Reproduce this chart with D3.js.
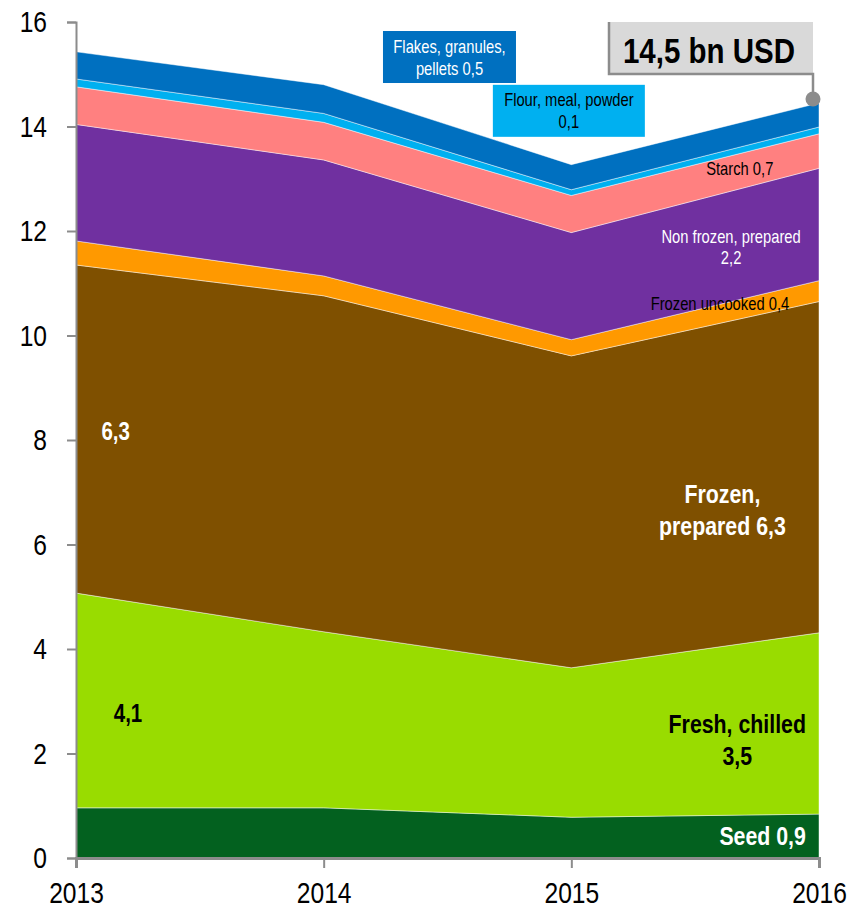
<!DOCTYPE html>
<html>
<head>
<meta charset="utf-8">
<script src="https://cdn.jsdelivr.net/npm/d3@7"></script>
<style>
  html, body { margin: 0; padding: 0; background: #fff; }
  svg text { font-family: "Liberation Sans", Arial, sans-serif; }
</style>
</head>
<body>
<svg id="chart"></svg>
<script>
'use strict'

const chartWidth = 859,
      chartHeight = 913,
      narrow = 0.82  // squeeze Liberation Sans to look like Arial Narrow

// values (bn USD)
const years = [2013, 2014, 2015, 2016]
const seed           = [0.96, 0.96, 0.78, 0.84]
const freshChilled   = [4.11, 3.37, 2.86, 3.47]
const frozenPrepared = [6.28, 6.43, 5.97, 6.34]
const frozenUncooked = [0.46, 0.38, 0.31, 0.40]
const nonFrozen      = [2.23, 2.22, 2.05, 2.15]
const starch         = [0.72, 0.72, 0.71, 0.66]
const flour          = [0.15, 0.17, 0.11, 0.13]
const flakes         = [0.52, 0.55, 0.48, 0.46]

const keys   = ["seed", "fresh", "frozenPrep", "frozenUnc", "nonFrozen", "starch", "flour", "flakes"]
const series = [seed, freshChilled, frozenPrepared, frozenUncooked, nonFrozen, starch, flour, flakes]
const colors = ["#03611f", "#99dc00", "#7f5000", "#ff9900", "#7030a0", "#ff8080", "#00b0f0", "#0070c0"]

const yTicks = [0, 2, 4, 6, 8, 10, 12, 14, 16]
const totalLabel = "14,5 bn USD"

// rows for d3.stack
const table = years.map((yr, i) => {
  const row = { year: yr }
  keys.forEach((k, j) => { row[k] = series[j][i] })
  return row
})

const svg = d3.select("#chart")
svg.attr("width", chartWidth).attr("height", chartHeight)

const x = d3.scaleLinear().domain([2013, 2016]).range([76, 819])
const y = d3.scaleLinear().domain([0, 16]).range([858, 22])

const stacked = d3.stack().keys(keys)(table)

const area = d3.area()
  .x(d => x(d.data.year))
  .y0(d => y(d[0]))
  .y1(d => y(d[1]))

svg.append("g")
  .selectAll("path")
  .data(stacked)
  .enter().append("path")
    .attr("d", area)
    .attr("fill", (d, i) => colors[i])
    .attr("stroke", "rgba(255,255,255,0.45)")
    .attr("stroke-width", 1)

// axes
const yAxis = svg.append("g")
  .attr("transform", `translate(${x(2013)},0)`)
  .call(d3.axisLeft(y).tickValues(yTicks).tickSize(9).tickPadding(20).tickFormat(d3.format("d")))
yAxis.select(".domain").attr("stroke", "#8c8c8c").attr("stroke-width", 2)
yAxis.selectAll(".tick line").attr("stroke", "#8c8c8c").attr("stroke-width", 2)
yAxis.selectAll(".tick text")
  .attr("font-size", 30).attr("fill", "#000")
  .style("font-family", '"Liberation Sans", Arial, sans-serif')
  .attr("x", -29 / narrow)
  .attr("transform", `scale(${narrow},1)`)

const xAxis = svg.append("g")
  .attr("transform", `translate(0,${y(0)})`)
  .call(d3.axisBottom(x).tickValues(years).tickSize(10).tickPadding(14).tickFormat(d3.format("d")))
xAxis.select(".domain").attr("stroke", "#8c8c8c").attr("stroke-width", 3)
xAxis.selectAll(".tick line").attr("stroke", "#8c8c8c").attr("stroke-width", 2)
xAxis.selectAll(".tick text")
  .attr("font-size", 30).attr("fill", "#000")
  .style("font-family", '"Liberation Sans", Arial, sans-serif')
  .attr("transform", `scale(${narrow},1)`)

// in-chart labels, placed in data space
const labels = [
  { lines: ["6,3"], at: [2013.16, 8.17], color: "#fff", bold: true, size: 25, gap: 0 },
  { lines: ["4,1"], at: [2013.21, 2.78], color: "#000", bold: true, size: 25, gap: 0 },
  { lines: ["Frozen,", "prepared 6,3"], at: [2015.61, 6.66], color: "#fff", bold: true, size: 26, gap: 32 },
  { lines: ["Fresh, chilled", "3,5"], at: [2015.67, 2.26], color: "#000", bold: true, size: 26, gap: 32 },
  { lines: ["Seed 0,9"], at: [2015.947, 0.42], color: "#fff", bold: true, size: 26, gap: 0, anchor: "end" },
  { lines: ["Frozen uncooked 0,4"], at: [2015.60, 10.62], color: "#000", bold: false, size: 18, gap: 0 },
  { lines: ["Non frozen, prepared", "2,2"], at: [2015.645, 11.70], color: "#fff", bold: false, size: 18, gap: 21 },
  { lines: ["Starch 0,7"], at: [2015.68, 13.19], color: "#000", bold: false, size: 18, gap: 0 },
  { lines: ["Flakes, granules,", "pellets 0,5"], at: [2014.508, 15.33], color: "#fff", bold: false, size: 18, gap: 22,
    box: { w: 133, h: 52, fill: "#0070c0" } },
  { lines: ["Flour, meal, powder", "0,1"], at: [2014.99, 14.30], color: "#000", bold: false, size: 18, gap: 22,
    box: { w: 152, h: 52, fill: "#00b0f0" } }
]

const lbl = svg.append("g")
labels.forEach(l => {
  const cx = x(l.at[0]), cy = y(l.at[1])
  if (l.box) {
    lbl.append("rect")
      .attr("x", cx - l.box.w / 2).attr("y", cy - l.box.h / 2)
      .attr("width", l.box.w).attr("height", l.box.h)
      .attr("fill", l.box.fill)
  }
  const top = cy - (l.lines.length - 1) * l.gap / 2
  l.lines.forEach((t, i) => {
    lbl.append("text")
      .attr("transform", `translate(${cx},${top + i * l.gap}) scale(${narrow},1)`)
      .attr("dy", "0.36em")
      .attr("text-anchor", l.anchor || "middle")
      .attr("font-size", l.size)
      .attr("font-weight", l.bold ? "bold" : "normal")
      .attr("fill", l.color)
      .text(t)
  })
})

// total callout
const total = d3.sum(series, s => s[3])
const dotX = x(2016) - 6, dotY = y(total) - 4
const callout = svg.append("g")
callout.append("rect")
  .attr("x", 609).attr("y", 22).attr("width", 204).attr("height", 52)
  .attr("fill", "#d9d9d9")
callout.append("path")
  .attr("d", `M609,22 V74 H${dotX} V${dotY}`)
  .attr("fill", "none").attr("stroke", "#8c8c8c").attr("stroke-width", 2.5)
callout.append("circle")
  .attr("cx", dotX).attr("cy", dotY).attr("r", 7.5)
  .attr("fill", "#8c8c8c")
callout.append("text")
  .attr("transform", `translate(709,50) scale(${narrow},1)`)
  .attr("dy", "0.36em")
  .attr("text-anchor", "middle")
  .attr("font-size", 36).attr("font-weight", "bold")
  .attr("fill", "#000")
  .text(totalLabel)
</script>
</body>
</html>
